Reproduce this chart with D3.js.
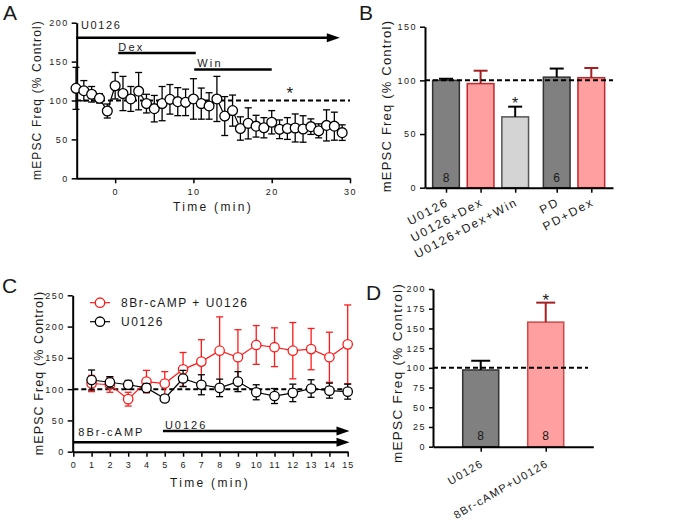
<!DOCTYPE html>
<html><head><meta charset="utf-8">
<script src="https://cdn.jsdelivr.net/npm/d3@7"></script>
<style>body{margin:0;background:#fff}</style>
</head><body><svg id="c" width="696" height="521"></svg>
<script>
// ---------- DATA ----------
// Panel A: U0126 -> Dex -> Win time course
const aTime = [-5,-4,-3,-2,-1,0,1,2,3,4,5,6,7,8,9,10,11,12,13,14,15,16,17,18,19,20,21,22,23,24,25,26,27,28,29];
const aMean = [115.6,112.6,108,102.8,86.5,119,109,102,112,96,89.5,96,101.5,98.5,97.6,102,96,93,102,80,87,64,70.6,67,65,72,63,64,64.7,63.4,66.4,61,68,67,58.7];
const aErr  = [27,13,10,6,9,17,22,16,24,12,17,22,19,18,17,26,20,17,29,25,20,15,20,14,13,15,12,14,18,17,10,9,20,18,10];
const aTicksX = [0,10,20,30];
const aTicksY = [0,50,100,150,200];
const aTreatLabels = ["U0126","Dex","Win"];
const aTreatStart  = [-5,0.4,10.1];
const aTreatEnd    = [28.7,10.3,20];
const aTreatLevel  = [180.7,161,140];

// Panel B: bar summary
const bCats = ["U0126","U0126+Dex","U0126+Dex+Win","PD","PD+Dex"];
const bMean = [100,97,66,103,102.5];
const bErr  = [1.5,12,9.5,8,9];
const bN    = ["8","","","6",""];
const bTicksY = [0,50,100,150];

// Panel C: 8Br-cAMP time course
const cTime = [1,2,3,4,5,6,7,8,9,10,11,12,13,14,15];
const cSeriesNames = ["8Br-cAMP + U0126","U0126"];
const cRed     = [109,107,84,112,109,131.6,144,161.5,151,170.6,167,161.5,164,151,171.6];
const cRedErr  = [13,12,11,18,19,27,35,54,44,31,31,45,33,40,63];
const cBlack   = [114.6,111,107,102,85,117,107,102,112,95,89,94,101,97.6,96];
const cBlackErr= [16,9,7,7,5,13,16,14,16,12,12,14,14,12,12];
const cTicksX = [0,1,2,3,4,5,6,7,8,9,10,11,12,13,14,15];
const cTicksY = [0,50,100,150,200,250];
const cTreatLabels = ["8Br-cAMP","U0126"];
const cTreatStart  = [0,4.9];
const cTreatEnd    = [15.1,15.1];
const cTreatLevel  = [15,33];

// Panel D: bar summary
const dCats = ["U0126","8Br-cAMP+U0126"];
const dMean = [97.3,158];
const dErr  = [11.7,24.7];
const dN    = ["8","8"];
const dTicksY = [0,25,50,75,100,125,150,175,200];

const yLabelText = "mEPSC Freq (% Control)";
const xLabelText = "Time (min)";

// ---------- DRAWING ----------
const FONT = '"Liberation Sans", Arial, Helvetica, sans-serif';
const TXT = "#1a1a1a";
const svg = d3.select("#c");
const GRAY = "#808080", PINK = "#ff9f9f", LIGHT = "#d4d4d4";
const DASH = "5,3";

function styleAxis(g, fs, ls){
  g.attr("font-family", FONT).attr("font-size", fs);
  g.select(".domain").attr("stroke","#000").attr("stroke-width",2);
  g.selectAll(".tick line").attr("stroke","#000").attr("stroke-width",1.5);
  g.selectAll(".tick text").attr("fill",TXT).style("letter-spacing", ls+"px");
}
function txt(x,y,s,fs,ls,anchor){
  return svg.append("text").attr("x",x).attr("y",y).attr("font-family",FONT)
    .attr("font-size",fs).style("letter-spacing",ls+"px").attr("text-anchor",anchor||"start").attr("fill",TXT).text(s);
}
function yLabel(x,y,fs,ls){
  svg.append("text").attr("transform",`translate(${x},${y}) rotate(-90)`).attr("text-anchor","middle")
    .attr("font-family",FONT).attr("font-size",fs).style("letter-spacing",ls+"px").attr("fill",TXT).text(yLabelText);
}
function hline(x1,x2,y,w,dash){
  const l = svg.append("line").attr("x1",x1).attr("x2",x2).attr("y1",y).attr("y2",y).attr("stroke","#000").attr("stroke-width",w);
  if(dash) l.attr("stroke-dasharray",dash);
  return l;
}
function arrow(x1,x2,y){
  hline(x1,x2-6,y,2.5);
  svg.append("path").attr("d",`M${x2},${y} L${x2-13},${y-4.5} L${x2-13},${y+4.5} Z`).attr("fill","#000");
}
function errBars(g, xs, ms, es, x, y, col, cap, both, w){
  xs.forEach((t,i)=>{
    const cx = x(t), top = y(ms[i]+es[i]), bot = both ? y(ms[i]-es[i]) : y(ms[i]);
    g.append("line").attr("x1",cx).attr("x2",cx).attr("y1",top).attr("y2",bot).attr("stroke",col).attr("stroke-width",w);
    g.append("line").attr("x1",cx-cap/2).attr("x2",cx+cap/2).attr("y1",top).attr("y2",top).attr("stroke",col).attr("stroke-width",w);
    if(both) g.append("line").attr("x1",cx-cap/2).attr("x2",cx+cap/2).attr("y1",bot).attr("y2",bot).attr("stroke",col).attr("stroke-width",w);
  });
}

// ===== Panel A =====
{
  const x = d3.scaleLinear().domain([-5,30]).range([76,350]);
  const y = d3.scaleLinear().domain([0,200]).range([178.3,22.7]);
  svg.append("g").attr("transform","translate(0,178.3)")
    .call(d3.axisBottom(x).tickValues(aTicksX).tickSize(5).tickSizeOuter(0).tickPadding(5))
    .call(g=>styleAxis(g,9,1.5));
  svg.append("g").attr("transform","translate(76.7,0)")
    .call(d3.axisLeft(y).tickValues(aTicksY).tickSize(5).tickSizeOuter(0).tickPadding(3))
    .call(g=>styleAxis(g,9,1.5));
  aTreatLabels.forEach((lab,i)=>{
    const yy = y(aTreatLevel[i]);
    if(i===0){ arrow(x(aTreatStart[i]), x(aTreatEnd[i]), yy); txt(x(aTreatStart[i])+5, yy-8.5, lab, 11, 1.6); }
    else { hline(x(aTreatStart[i]), x(aTreatEnd[i]), yy, 2.5); txt(x(aTreatStart[i])+(i===2?3:0), yy-2, lab, 11, 2.2); }
  });
  hline(x(-5), x(30), y(100), 2, DASH);
  const g = svg.append("g");
  errBars(g, aTime, aMean, aErr, x, y, "#000", 7, true, 1.3);
  g.append("path").datum(aTime).attr("fill","none").attr("stroke","#000").attr("stroke-width",1.2)
    .attr("d", d3.line().x(t=>x(t)).y((t,i)=>y(aMean[i])));
  g.selectAll("circle").data(aTime).join("circle").attr("cx",t=>x(t)).attr("cy",(t,i)=>y(aMean[i]))
    .attr("r",4.9).attr("fill","#fff").attr("stroke","#000").attr("stroke-width",1.3);
  txt(x(22.3), y(100)-2, "*", 17, 0, "middle");
  yLabel(41,100,12,1.15);
  txt(213, 211, xLabelText, 12, 2.3, "middle");
  txt(3, 20, "A", 21, 0);
}

// ===== Panel B =====
{
  const pos = bCats.map((c,i)=> i + (i>=3 ? 0.2 : 0));
  const x = d3.scaleLinear().domain([-0.607,4.827]).range([425,613]);
  const y = d3.scaleLinear().domain([0,150]).range([187.7,26.7]);
  const fills = [GRAY,PINK,LIGHT,GRAY,PINK];
  const strokes = ["#333","#c0282d","#555","#333","#c0282d"];
  const ecol = ["#000","#a51f22","#000","#000","#a51f22"];
  const bw = 26.7;
  bCats.forEach((c,i)=>{
    svg.append("rect").attr("x",x(pos[i])-bw/2).attr("y",y(bMean[i])).attr("width",bw).attr("height",y(0)-y(bMean[i]))
      .attr("fill",fills[i]).attr("stroke",strokes[i]).attr("stroke-width",1.5);
  });
  const g = svg.append("g");
  bCats.forEach((c,i)=> errBars(g,[pos[i]],[bMean[i]],[bErr[i]],x,y,ecol[i],14,false,2));
  svg.append("g").attr("transform","translate(0,187.7)")
    .call(d3.axisBottom(x).tickValues(pos).tickFormat((d,i)=>bCats[i]).tickSize(5).tickSizeOuter(0))
    .call(g=>styleAxis(g,12,1.8))
    .call(g=>g.selectAll(".tick text").attr("x",0).attr("y",0).attr("dy",0)
      .attr("transform","translate(3,17) rotate(-28)").attr("text-anchor","end"));
  svg.append("g").attr("transform","translate(425,0)")
    .call(d3.axisLeft(y).tickValues(bTicksY).tickSize(5).tickSizeOuter(0).tickPadding(3))
    .call(g=>styleAxis(g,9,1.5));
  hline(425, 613, y(100), 2, DASH);
  bCats.forEach((c,i)=>{ if(bN[i]) txt(x(pos[i]), 181.7, bN[i], 12, 0, "middle"); });
  txt(x(pos[2]), y(bMean[2]+bErr[2])+2, "*", 16, 0, "middle");
  yLabel(390.5,106,13,1.2);
  txt(359, 20, "B", 21, 0);
}

// ===== Panel C =====
{
  const x = d3.scaleLinear().domain([0,15]).range([73.3,347.7]);
  const y = d3.scaleLinear().domain([0,250]).range([451.7,295.3]);
  svg.append("g").attr("transform","translate(0,451.7)")
    .call(d3.axisBottom(x).tickValues(cTicksX).tickSize(5).tickSizeOuter(0).tickPadding(5))
    .call(g=>styleAxis(g,9,1));
  svg.append("g").attr("transform","translate(72.7,0)")
    .call(d3.axisLeft(y).tickValues(cTicksY).tickSize(5).tickSizeOuter(0).tickPadding(3))
    .call(g=>styleAxis(g,9,1.5));
  hline(x(0), x(15), y(100), 2, DASH);
  cTreatLabels.forEach((lab,i)=>{
    const yy = y(cTreatLevel[i]);
    arrow(x(cTreatStart[i]), x(cTreatEnd[i]), yy);
    if(i===0) txt(x(cTreatStart[i])+5, yy-6.3, lab, 11, 2);
    else txt(x(cTreatStart[i])+2, yy-2, lab, 11, 2);
  });
  const series = [[cRed,cRedErr,"#ff1a1a"],[cBlack,cBlackErr,"#000"]];
  series.forEach(([m,e,col])=>{
    const g = svg.append("g");
    errBars(g, cTime, m, e, x, y, col, 7, true, 1.3);
    g.append("path").datum(cTime).attr("fill","none").attr("stroke",col).attr("stroke-width",1.2)
      .attr("d", d3.line().x(t=>x(t)).y((t,i)=>y(m[i])));
    g.selectAll("circle").data(cTime).join("circle").attr("cx",t=>x(t)).attr("cy",(t,i)=>y(m[i]))
      .attr("r",4.7).attr("fill","#fff").attr("stroke",col).attr("stroke-width",1.3);
  });
  cSeriesNames.forEach((nm,i)=>{
    const col = series[i][2], ly = 302.7 + i*19;
    svg.append("line").attr("x1",90).attr("x2",110).attr("y1",ly).attr("y2",ly).attr("stroke",col).attr("stroke-width",1.2);
    svg.append("circle").attr("cx",100).attr("cy",ly).attr("r",4.7).attr("fill","#fff").attr("stroke",col).attr("stroke-width",1.3);
    txt(121, ly+4, nm, 12, 1.5);
  });
  yLabel(43,373,12.5,1.1);
  txt(210, 487, xLabelText, 12, 2.3, "middle");
  txt(2, 293, "C", 21, 0);
}

// ===== Panel D =====
{
  const pos = dCats.map((c,i)=>i);
  const x = d3.scaleLinear().domain([-0.734,1.732]).range([433,593.3]);
  const y = d3.scaleLinear().domain([0,200]).range([446.7,289]);
  const fills = [GRAY,PINK], strokes = ["#333","#cc4a4a"], ecol = ["#000","#a51f22"];
  const bw = 36;
  dCats.forEach((c,i)=>{
    svg.append("rect").attr("x",x(pos[i])-bw/2).attr("y",y(dMean[i])).attr("width",bw).attr("height",y(0)-y(dMean[i]))
      .attr("fill",fills[i]).attr("stroke",strokes[i]).attr("stroke-width",1.5);
  });
  const g = svg.append("g");
  dCats.forEach((c,i)=> errBars(g,[pos[i]],[dMean[i]],[dErr[i]],x,y,ecol[i],19,false,2));
  svg.append("g").attr("transform","translate(0,446.7)")
    .call(d3.axisBottom(x).tickValues(pos).tickFormat((d,i)=>dCats[i]).tickSize(5).tickSizeOuter(0))
    .call(g=>styleAxis(g,11,1.3))
    .call(g=>g.selectAll(".tick text").attr("x",0).attr("y",0).attr("dy",0)
      .attr("transform","translate(3,19) rotate(-30)").attr("text-anchor","end"));
  svg.append("g").attr("transform","translate(433,0)")
    .call(d3.axisLeft(y).tickValues(dTicksY).tickSize(4).tickSizeOuter(0).tickPadding(3))
    .call(g=>styleAxis(g,9,1.5));
  hline(433, 588, y(100), 2, DASH);
  dCats.forEach((c,i)=>{ if(dN[i]) txt(x(pos[i]), 440, dN[i], 12, 0, "middle"); });
  txt(x(pos[1]), y(dMean[1]+dErr[1])+3, "*", 17, 0, "middle");
  yLabel(402,373,13.5,1.3);
  txt(366, 300, "D", 21, 0);
}
</script></body></html>
